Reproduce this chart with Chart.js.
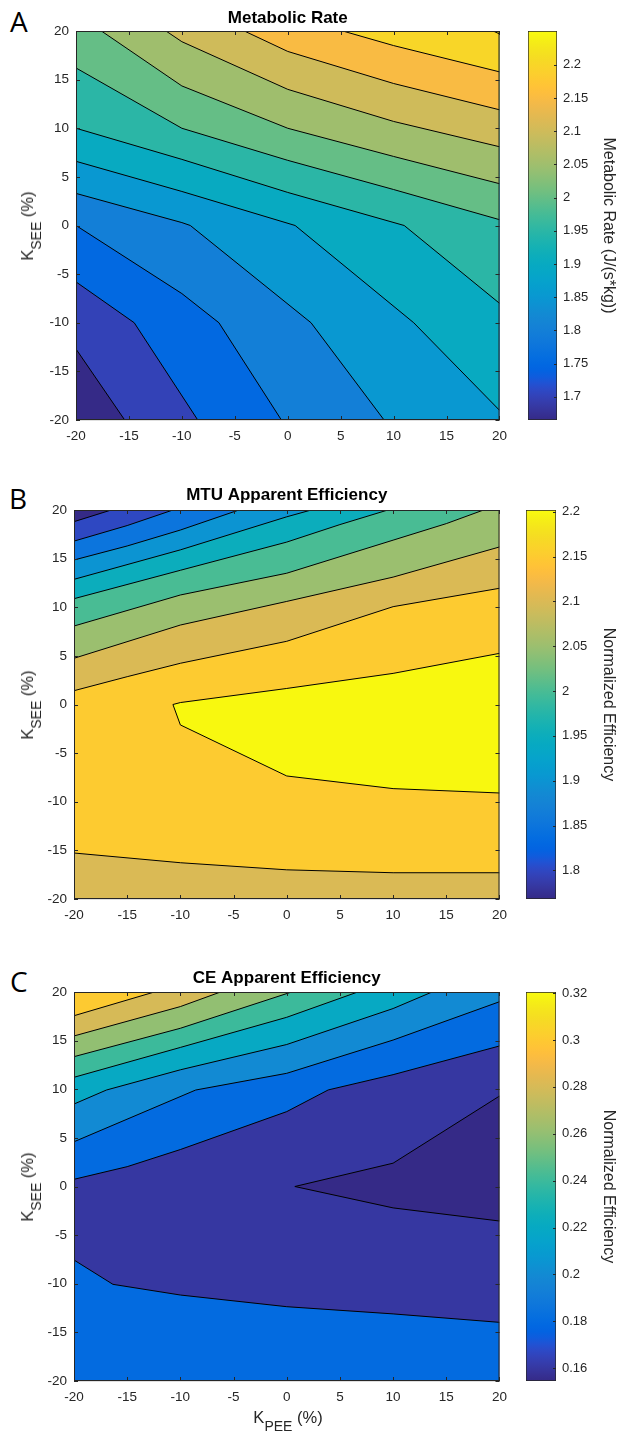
<!DOCTYPE html>
<html lang="en">
<head>
<meta charset="UTF-8">
<title>Contour maps</title>
<style>
  body { margin: 0; background: #fff; }
  #page { position: relative; width: 619px; height: 1433px; overflow: hidden; font-family: 'Liberation Sans', Arial, sans-serif; color: #262626; }
  #page canvas { position: absolute; display: block; }
  .tag { position: absolute; font: 28px/28px 'Open Sans', sans-serif; color: #000; }
  .lab { position: absolute; font-size: 16.5px; line-height: 16.5px; white-space: nowrap; }
  .lab.y { transform-origin: 0 0; transform: rotate(-90deg) translateX(-50%); left: 19px; }
  .lab.x { transform: translateX(-50%); }
  .lab sub { font-size: 14px; line-height: 0; vertical-align: -8px; }
</style>
</head>
<body>
<div id="page">
  <div class="tag" style="left:10px;top:7px">A</div>
  <div class="tag" style="left:9px;top:484px">B</div>
  <div class="tag" style="left:10px;top:967px">C</div>

  <canvas id="rate" width="515" height="450" style="left:0;top:0"></canvas>
  <canvas id="rateBar" width="104" height="450" style="left:515px;top:0"></canvas>
  <canvas id="mtu" width="515" height="450" style="left:0;top:479px"></canvas>
  <canvas id="mtuBar" width="104" height="450" style="left:515px;top:479px"></canvas>
  <canvas id="ce" width="515" height="450" style="left:0;top:961px"></canvas>
  <canvas id="ceBar" width="104" height="450" style="left:515px;top:961px"></canvas>

  <div class="lab y" style="top:225.5px">K<sub>SEE</sub> (%)</div>
  <div class="lab y" style="top:704.5px">K<sub>SEE</sub> (%)</div>
  <div class="lab y" style="top:1186.5px">K<sub>SEE</sub> (%)</div>
  <div class="lab x" style="left:288px;top:1409px">K<sub>PEE</sub> (%)</div>
</div>

<script src="https://cdn.jsdelivr.net/npm/chart.js"></script>
<script>
// axis ticks shared by all three maps (K_PEE on x, K_SEE on y, in %)
const kTicks = [-20, -15, -10, -5, 0, 5, 10, 15, 20];

// A - metabolic rate, contour lines as [K_PEE, K_SEE] vertices
const rateRange = [1.665, 2.251];
const rateTicks = [1.7, 1.75, 1.8, 1.85, 1.9, 1.95, 2, 2.05, 2.1, 2.15, 2.2];
const rateLevels = [1.7, 1.75, 1.8, 1.85, 1.9, 1.95, 2, 2.05, 2.1, 2.15, 2.2, 2.25];
const rateLines = [
  [[-20, -12.7], [-15.4, -20]],
  [[-20, -5.8], [-14.5, -10], [-8.5, -20]],
  [[-20, 0], [-10, -7], [-6.5, -10], [-0.6, -20]],
  [[-20, 3.3], [-10, 0.3], [-9.2, 0], [2.2, -10], [9.1, -20]],
  [[-20, 6.6], [-10, 3.5], [0.7, 0], [11.9, -10], [20, -19]],
  [[-20, 10], [-10, 6.8], [0, 3.4], [11, 0], [20, -8]],
  [[-20, 16.2], [-10, 10], [0, 6.7], [10, 3.7], [20, 0.6]],
  [[-17.6, 20], [-10, 14.35], [0, 10], [10, 7.1], [20, 4.3]],
  [[-11.5, 20], [-10, 18.9], [0, 14], [10, 10.7], [20, 8.1]],
  [[-4.1, 20], [0, 17.9], [10, 14.6], [20, 11.9]],
  [[5.2, 20], [10, 18.5], [20, 15.8]],
  [[19.4, 20], [20, 19.7]]
];

// B - MTU apparent efficiency
const mtuRange = [1.768, 2.202];
const mtuTicks = [1.8, 1.85, 1.9, 1.95, 2, 2.05, 2.1, 2.15, 2.2];
const mtuLevels = [1.8, 1.85, 1.9, 1.95, 2, 2.05, 2.1, 2.15, 2.2];
const mtuLines = [
  [[-20, 18.8], [-16.5, 20]],
  [[-20, 16.8], [-15, 18.4], [-10.7, 20]],
  [[-20, 14.86], [-15, 16.3], [-10, 17.94], [-4.5, 20]],
  [[-20, 12.87], [-10, 15.9], [0, 19.3], [2.3, 20]],
  [[-20, 10.88], [-10, 13.8], [0, 16.7], [5, 18.5], [9.5, 20]],
  [[-20, 8.07], [-10, 11.26], [0, 13.5], [10, 16.9], [15, 18.6], [18.5, 20]],
  [[-20, 4.75], [-10, 8.17], [0, 10.6], [10, 13.1], [20, 16.2]],
  [[-20, 1.42], [-15, 2.86], [-10, 4.24], [0, 6.5], [10, 10.06], [20, 11.95]]
];
const mtuPeak = [[20, 5.26], [10, 3.2], [0, 1.65], [-10, 0.2], [-10.7, 0], [-10, -2.1], [0, -7.35], [10, -8.65], [20, -9.1]];
const mtuLow = [[-20, -15.27], [-10, -16.27], [0, -17], [10, -17.3], [20, -17.3]];

// C - CE apparent efficiency
const ceRange = [0.1545, 0.3205];
const ceTicks = [0.16, 0.18, 0.2, 0.22, 0.24, 0.26, 0.28, 0.3, 0.32];
const ceLevels = [0.16, 0.18, 0.2, 0.22, 0.24, 0.26, 0.28, 0.3];
const ceLines = [
  [[-20, 0.74], [-15, 2.04], [-10, 3.8], [0, 7.7], [3.9, 9.93], [10, 11.5], [20, 14.45]],
  [[-20, 4.6], [-8.56, 9.92], [0, 11.64], [10, 15.06], [20, 19]],
  [[-20, 8.48], [-16.95, 9.92], [-10, 12], [0, 14.6], [10, 18.3], [13.66, 20]],
  [[-20, 11.23], [-10, 14.3], [0, 17.4], [6.67, 20]],
  [[-20, 13.35], [-10, 16.27], [0.45, 20]],
  [[-20, 15.48], [-10, 18.5], [-6.23, 20]],
  [[-20, 17.56], [-12.45, 20]]
];
const ceLow = [[-20, -7.56], [-16.34, -10.06], [-10, -11.16], [0, -12.36], [10, -13.1], [20, -13.97]];
const ceDip = [[20, 9.3], [10, 2.4], [0.76, 0], [10, -2.2], [20, -3.55]];

// MATLAB parula colormap (64 entries)
const parula = [
  [0.2081,0.1663,0.5292],[0.2116,0.1898,0.5777],[0.2123,0.2138,0.6270],[0.2081,0.2386,0.6771],
  [0.1959,0.2645,0.7279],[0.1707,0.2919,0.7792],[0.1253,0.3242,0.8303],[0.0591,0.3598,0.8683],
  [0.0117,0.3875,0.8820],[0.0060,0.4086,0.8828],[0.0165,0.4266,0.8786],[0.0329,0.4430,0.8720],
  [0.0498,0.4586,0.8641],[0.0629,0.4737,0.8554],[0.0723,0.4887,0.8467],[0.0779,0.5040,0.8384],
  [0.0793,0.5200,0.8312],[0.0749,0.5375,0.8263],[0.0641,0.5570,0.8240],[0.0488,0.5772,0.8228],
  [0.0343,0.5966,0.8199],[0.0265,0.6137,0.8135],[0.0239,0.6287,0.8038],[0.0231,0.6418,0.7913],
  [0.0228,0.6535,0.7768],[0.0267,0.6642,0.7607],[0.0384,0.6743,0.7436],[0.0590,0.6838,0.7254],
  [0.0843,0.6928,0.7062],[0.1133,0.7015,0.6859],[0.1453,0.7098,0.6646],[0.1801,0.7177,0.6424],
  [0.2178,0.7250,0.6193],[0.2586,0.7317,0.5954],[0.3022,0.7376,0.5712],[0.3482,0.7424,0.5473],
  [0.3953,0.7459,0.5244],[0.4420,0.7481,0.5033],[0.4871,0.7491,0.4840],[0.5300,0.7491,0.4661],
  [0.5709,0.7485,0.4494],[0.6099,0.7473,0.4337],[0.6473,0.7456,0.4188],[0.6834,0.7435,0.4044],
  [0.7184,0.7411,0.3905],[0.7525,0.7384,0.3768],[0.7858,0.7356,0.3633],[0.8185,0.7327,0.3498],
  [0.8507,0.7299,0.3360],[0.8824,0.7274,0.3217],[0.9139,0.7258,0.3063],[0.9450,0.7261,0.2886],
  [0.9739,0.7314,0.2666],[0.9938,0.7455,0.2403],[0.9990,0.7653,0.2164],[0.9955,0.7861,0.1967],
  [0.9880,0.8066,0.1794],[0.9789,0.8271,0.1633],[0.9697,0.8481,0.1475],[0.9626,0.8705,0.1309],
  [0.9589,0.8949,0.1132],[0.9598,0.9218,0.0948],[0.9661,0.9514,0.0755],[0.9763,0.9831,0.0538]
];

const INK = '#262626';
const K0 = kTicks[0], K1 = kTicks[kTicks.length - 1];
Chart.defaults.font.family = "'Liberation Sans', Arial, sans-serif";
Chart.defaults.color = INK;

const rgb = c => 'rgb(' + c.map(a => Math.round(a * 255)).join(',') + ')';

function shade(v, range) {
  const f = Math.min(1, Math.max(0, (v - range[0]) / (range[1] - range[0])));
  const p = f * (parula.length - 1);
  const i = Math.min(Math.floor(p), parula.length - 2), t = p - i;
  return rgb(parula[i].map((a, k) => a + (parula[i + 1][k] - a) * t));
}

// close a contour line along the plot border, walking ccw or cw from its end back to its start
function ring(pts, dir) {
  const s = K1 - K0;
  const pos = ([x, y]) => {
    if (y === K0) return x - K0;
    if (x === K1) return s + y - K0;
    if (y === K1) return 2 * s + K1 - x;
    return 3 * s + K1 - y;
  };
  const corners = [[K0, K0], [K1, K0], [K1, K1], [K0, K1]];
  const tE = pos(pts[pts.length - 1]), tS = pos(pts[0]);
  const dist = t => dir === 'ccw' ? (t - tE + 4 * s) % (4 * s) : (tE - t + 4 * s) % (4 * s);
  const walk = corners.map((c, i) => ({c, d: dist(i * s)}))
    .filter(o => o.d > 0 && o.d < dist(tS))
    .sort((a, b) => a.d - b.d)
    .map(o => o.c);
  return pts.concat(walk);
}

const toXY = pts => pts.map(([x, y]) => ({x, y}));

const area = (pts, color, order) => ({
  data: toXY(pts), showLine: true, fill: 'shape', backgroundColor: color,
  borderWidth: 0, pointRadius: 0, order
});
const stroke = pts => ({
  data: toXY(pts), showLine: true, fill: false, borderColor: '#000',
  borderWidth: 1, pointRadius: 0, order: -1000
});

// axes box with short inward tick marks, MATLAB style
const frame = {
  id: 'frame',
  afterDraw(chart) {
    const {ctx, chartArea: a, scales} = chart;
    ctx.save();
    ctx.strokeStyle = INK;
    ctx.lineWidth = 1;
    ctx.strokeRect(a.left + 0.5, a.top + 0.5, a.width - 1, a.height - 1);
    ctx.beginPath();
    scales.x.ticks.forEach(t => {
      const px = Math.round(scales.x.getPixelForValue(t.value)) + 0.5;
      ctx.moveTo(px, a.bottom); ctx.lineTo(px, a.bottom - 4);
      ctx.moveTo(px, a.top); ctx.lineTo(px, a.top + 4);
    });
    scales.y.ticks.forEach(t => {
      const py = Math.round(scales.y.getPixelForValue(t.value)) + 0.5;
      ctx.moveTo(a.left, py); ctx.lineTo(a.left + 4, py);
      ctx.moveTo(a.right, py); ctx.lineTo(a.right - 4, py);
    });
    ctx.stroke();
    ctx.restore();
  }
};

const barTicks = {
  id: 'barTicks',
  afterDraw(chart) {
    const {ctx, chartArea: a, scales: {y}} = chart;
    ctx.save();
    ctx.strokeStyle = INK;
    ctx.lineWidth = 1;
    ctx.beginPath();
    y.ticks.forEach(t => {
      const py = Math.round(y.getPixelForValue(t.value)) + 0.5;
      ctx.moveTo(a.right, py); ctx.lineTo(a.right - 3, py);
    });
    ctx.stroke();
    ctx.restore();
  }
};

function axis(dir, size) {
  return {
    type: 'linear', min: K0, max: K1, z: 1,
    afterBuildTicks: s => { s.ticks = kTicks.map(value => ({value})); },
    afterFit: s => { if (dir === 'x') s.height = size; else s.width = size; },
    grid: {color: 'rgba(38,38,38,0.15)', drawTicks: false},
    border: {display: false},
    ticks: {autoSkip: false, maxRotation: 0, padding: dir === 'x' ? 8 : 7, font: {size: 13.5}, color: INK}
  };
}

function contourChart(id, o) {
  const sq = [[K0, K0], [K1, K0], [K1, K1], [K0, K1]];
  const sets = [area(sq, shade(o.base, o.range), 1)];
  o.layers.forEach((l, k) => sets.push(area(ring(l.pts, l.dir), shade(l.v, o.range), -k)));
  o.lines.forEach(pts => sets.push(stroke(pts)));
  new Chart(document.getElementById(id), {
    type: 'scatter',
    data: {datasets: sets},
    options: {
      responsive: false, animation: false, events: [],
      layout: {padding: {left: 0, right: 12, top: 0, bottom: 0}},
      plugins: {
        legend: {display: false},
        tooltip: {enabled: false},
        title: {
          display: true, text: o.title, fullSize: false, color: '#000',
          font: {size: 17, weight: 'bold', lineHeight: 1},
          padding: {top: o.tp, bottom: 14 - o.tp}
        }
      },
      scales: {x: axis('x', 30), y: axis('y', o.left)}
    },
    plugins: [frame]
  });
}

function colorBar(id, o) {
  new Chart(document.getElementById(id), {
    type: 'bar',
    data: {
      labels: [''],
      datasets: [{
        data: [o.range],
        backgroundColor(c) {
          const a = c.chart.chartArea;
          if (!a) return null;
          const g = c.chart.ctx.createLinearGradient(0, a.bottom, 0, a.top);
          parula.forEach((p, i) => g.addColorStop(i / (parula.length - 1), rgb(p)));
          return g;
        },
        borderColor: INK, borderWidth: 1, borderSkipped: false,
        barPercentage: 1, categoryPercentage: 1
      }]
    },
    options: {
      responsive: false, animation: false, events: [],
      layout: {padding: {left: o.left - 515, right: 0, top: 31, bottom: 30}},
      plugins: {legend: {display: false}, tooltip: {enabled: false}},
      scales: {
        x: {display: false},
        y: {
          position: 'right', min: o.range[0], max: o.range[1],
          afterBuildTicks: s => { s.ticks = o.ticks.map(value => ({value})); },
          afterFit: s => { s.width = 619 - o.right; },
          grid: {display: false, drawTicks: false},
          border: {display: false},
          ticks: {autoSkip: false, padding: 6, font: {size: 13}, color: INK, callback: v => String(+v.toFixed(3))},
          title: {display: true, text: o.label, font: {size: 16}, color: INK, padding: {top: 1, bottom: 0}}
        }
      }
    },
    plugins: [barTicks]
  });
}

const rateLayers = rateLines.map((pts, i) => ({pts, dir: 'ccw', v: rateLevels[i]}));
const mtuLayers = mtuLines.map((pts, i) => ({pts, dir: 'ccw', v: i ? mtuLevels[i - 1] : mtuRange[0]})).reverse()
  .concat({pts: mtuLow, dir: 'cw', v: mtuLevels[6]}, {pts: mtuPeak, dir: 'ccw', v: mtuLevels[8]});
const ceLayers = ceLines.map((pts, i) => ({pts, dir: 'ccw', v: ceLevels[i + 1]}))
  .concat({pts: ceLow, dir: 'cw', v: ceLevels[1]}, {pts: ceDip, dir: 'ccw', v: ceRange[0]});

contourChart('rate', {title: 'Metabolic Rate', tp: 9.5, left: 76, range: rateRange, base: rateRange[0],
  layers: rateLayers, lines: rateLines});
contourChart('mtu', {title: 'MTU Apparent Efficiency', tp: 7.5, left: 74, range: mtuRange, base: mtuLevels[7],
  layers: mtuLayers, lines: mtuLines.concat([mtuLow, mtuPeak])});
contourChart('ce', {title: 'CE Apparent Efficiency', tp: 9, left: 74, range: ceRange, base: ceLevels[0],
  layers: ceLayers, lines: ceLines.concat([ceLow, ceDip])});

colorBar('rateBar', {range: rateRange, ticks: rateTicks, left: 528, right: 557, label: 'Metabolic Rate (J/(s*kg))'});
colorBar('mtuBar', {range: mtuRange, ticks: mtuTicks, left: 526, right: 556, label: 'Normalized Efficiency'});
colorBar('ceBar', {range: ceRange, ticks: ceTicks, left: 526, right: 556, label: 'Normalized Efficiency'});
</script>
</body>
</html>
